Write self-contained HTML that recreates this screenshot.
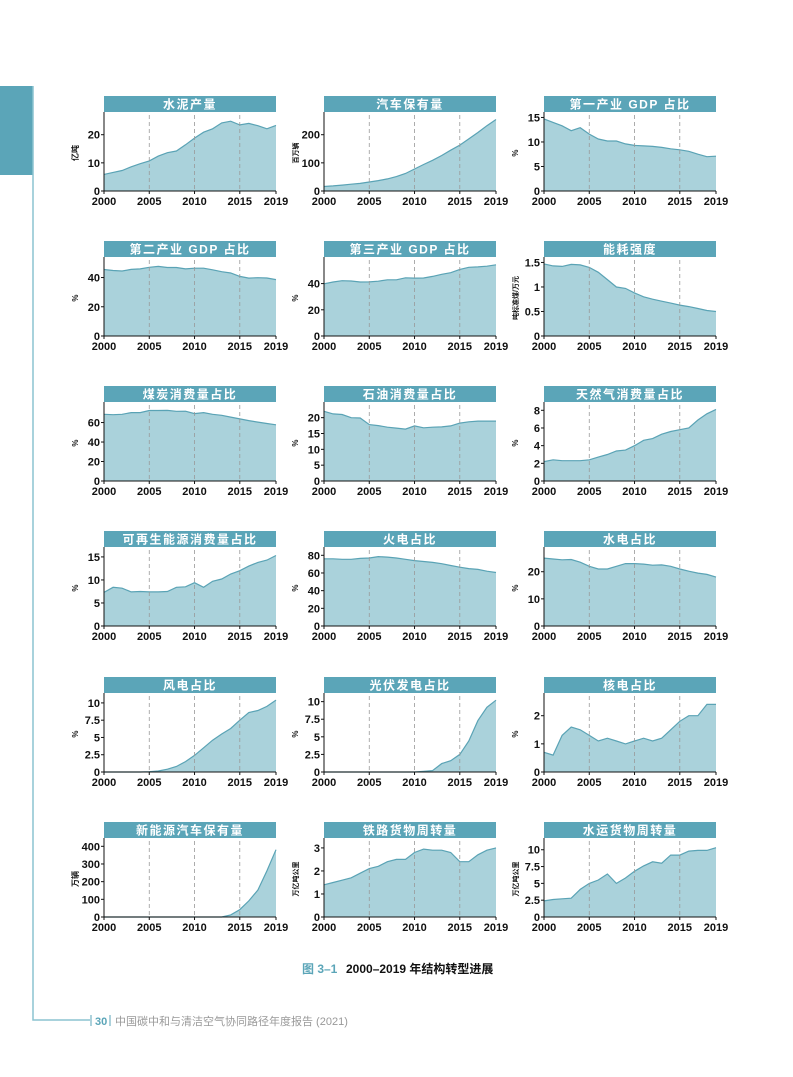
<!DOCTYPE html>
<html><head><meta charset="utf-8"><style>
body{margin:0;background:#fff;width:793px;height:1077px;overflow:hidden;position:relative;font-family:"Liberation Sans","Noto Sans CJK SC",sans-serif}
svg{position:absolute;left:0;top:0}
</style></head><body>
<svg id="s" width="793" height="1077">
<rect x="0" y="86" width="33" height="89" fill="#5ba5b8"/>
<polyline points="33,86 33,1020 90,1020" fill="none" stroke="#8cc3d0" stroke-width="1.5"/>
<text x="302" y="973" font-size="12" font-weight="bold" fill="#5ba5b8">图 3–1</text>
<text x="346" y="973" font-size="12" font-weight="bold" fill="#111">2000–2019 年结构转型进展</text>
<line x1="91" y1="1015" x2="91" y2="1026" stroke="#5ba5b8"/>
<text x="95" y="1025" font-size="11" font-weight="bold" fill="#5ba5b8">30</text>
<line x1="110" y1="1015" x2="110" y2="1026" stroke="#5ba5b8"/>
<text x="115" y="1025" font-size="11" fill="#999">中国碳中和与清洁空气协同路径年度报告 (2021)</text>
</svg>
<script>
const titles=["水泥产量","汽车保有量","第一产业 GDP 占比","第二产业 GDP 占比","第三产业 GDP 占比","能耗强度","煤炭消费量占比","石油消费量占比","天然气消费量占比","可再生能源消费量占比","火电占比","水电占比","风电占比","光伏发电占比","核电占比","新能源汽车保有量","铁路货物周转量","水运货物周转量"];
const units=["亿吨","百万辆","%","%","%","吨标准煤/万元","%","%","%","%","%","%","%","%","%","万辆","万亿吨公里","万亿吨公里"];
const yMaxes=[27,270,15.5,52,58,1.55,78,24,8.6,16.5,86,28,11,10.8,2.7,430,3.3,11.3];
const yTicks=[[0,10,20],[0,100,200],[0,5,10,15],[0,20,40],[0,20,40],[0,0.5,1,1.5],[0,20,40,60],[0,5,10,15,20],[0,2,4,6,8],[0,5,10,15],[0,20,40,60,80],[0,10,20],[0,2.5,5,7.5,10],[0,2.5,5,7.5,10],[0,1,2],[0,100,200,300,400],[0,1,2,3],[0,2.5,5,7.5,10]];
const years=[2000,2001,2002,2003,2004,2005,2006,2007,2008,2009,2010,2011,2012,2013,2014,2015,2016,2017,2018,2019];
const xTicks=[2000,2005,2010,2015,2019];
const cement=[5.9,6.6,7.3,8.6,9.7,10.7,12.4,13.6,14.2,16.4,18.8,20.9,22.1,24.2,24.8,23.5,24.0,23.2,22.1,23.3];
const cars=[16,18,21,24,27,32,37,43,51,62,78,94,109,126,145,163,185,208,232,254];
const gdp1=[14.7,14.0,13.3,12.3,12.9,11.6,10.6,10.2,10.2,9.6,9.3,9.2,9.1,8.9,8.6,8.4,8.1,7.5,7.0,7.1];
const gdp2=[45.5,44.8,44.5,45.6,45.9,47.0,47.6,46.9,46.9,45.9,46.4,46.4,45.3,44.0,43.1,40.8,39.6,39.9,39.7,38.6];
const gdp3=[39.8,41.2,42.2,42.0,41.2,41.3,41.8,42.9,42.9,44.4,44.2,44.3,45.5,47.1,48.3,50.8,52.4,52.7,53.3,54.3];
const intensity=[1.47,1.43,1.42,1.46,1.45,1.40,1.30,1.15,1.00,0.97,0.88,0.80,0.75,0.71,0.67,0.63,0.60,0.56,0.52,0.50];
const coal=[68.5,68,68.5,70.2,70.2,72.4,72.4,72.5,71.5,71.6,69.2,70.2,68.5,67.4,65.6,63.7,62.0,60.4,59.0,57.7];
const oil=[22,21.2,21,20,19.9,17.8,17.5,17,16.7,16.4,17.4,16.8,17,17.1,17.4,18.3,18.7,18.9,18.9,18.9];
const gas=[2.2,2.4,2.3,2.3,2.3,2.4,2.7,3.0,3.4,3.5,4.0,4.6,4.8,5.3,5.6,5.8,6.0,6.9,7.6,8.1];
const renew=[7.3,8.4,8.2,7.4,7.5,7.4,7.4,7.5,8.4,8.5,9.4,8.4,9.7,10.2,11.3,12.0,13.0,13.8,14.3,15.3];
const thermal=[76,76,75.5,75.5,76.5,77,78.5,78,77,75.5,74,73,72,70.5,68.5,66.5,65,64,62,60.5];
const hydro=[25,24.7,24.4,24.5,23.5,22,21,21,22,23,23,22.8,22.4,22.5,22,21,20.2,19.5,19,18];
const wind=[0,0,0,0,0,0.05,0.15,0.4,0.8,1.5,2.4,3.5,4.6,5.5,6.3,7.5,8.6,8.9,9.5,10.4];
const solar=[0,0,0,0,0,0,0,0,0,0,0,0.1,0.2,1.2,1.6,2.5,4.4,7.3,9.2,10.2];
const nuclear=[0.7,0.6,1.3,1.6,1.5,1.3,1.1,1.2,1.1,1.0,1.1,1.2,1.1,1.2,1.5,1.8,2.0,2.0,2.4,2.4];
const nev=[0,0,0,0,0,0,0,0,0,0,0,0,0,0,12,42,91,153,261,381];
const rail=[1.4,1.5,1.6,1.7,1.9,2.1,2.2,2.4,2.5,2.5,2.8,2.95,2.9,2.9,2.8,2.4,2.4,2.7,2.9,3.0];
const water=[2.4,2.6,2.7,2.8,4.1,5.0,5.5,6.4,5.0,5.8,6.8,7.6,8.2,8.0,9.2,9.2,9.8,9.9,9.9,10.3];
const series=[cement,cars,gdp1,gdp2,gdp3,intensity,coal,oil,gas,renew,thermal,hydro,wind,solar,nuclear,nev,rail,water];
const NS="http://www.w3.org/2000/svg",svg=document.getElementById('s');
const colX=[104,324,544],rowT=[96,241,386,531,677,822],W=172;
function mk(t,a,p){const e=document.createElementNS(NS,t);for(const k in a)e.setAttribute(k,a[k]);(p||svg).appendChild(e);return e;}
series.forEach((d,i)=>{
 const x0=colX[i%3],top=rowT[Math.floor(i/3)],bot=top+95,ytop=top+19;
 const g=mk('g',{});
 
 
 const xs=y=>x0+(y-2000)/19*W, ys=v=>bot-v/yMaxes[i]*(bot-ytop);
 const tb=mk('rect',{x:x0,y:top,width:W,height:16,fill:'#5ba5b8'},g);
 
 
 const tt=mk('text',{x:x0+W/2,y:top+12.5,'text-anchor':'middle','font-size':12,'font-weight':'bold',fill:'#fff','letter-spacing':'1.5'},g);tt.textContent=titles[i];
 
 
 let pts=d.map((v,k)=>xs(years[k]).toFixed(1)+','+ys(v).toFixed(1));
 const area=mk('polygon',{points:x0+','+bot+' '+pts.join(' ')+' '+(x0+W)+','+bot,fill:'#aad2db'},g);
 
 
 const ln=mk('polyline',{points:pts.join(' '),fill:'none',stroke:'#5aa3b5','stroke-width':1.2},g);
 
 
 [2005,2010,2015].forEach(y=>{const l=mk('line',{x1:xs(y),x2:xs(y),y1:ytop,y2:bot,stroke:'#999','stroke-dasharray':'4,3','stroke-width':0.8},g);
  
  });
 mk('line',{x1:x0,x2:x0,y1:ytop-3,y2:bot,stroke:'#111','stroke-width':1},g);
 mk('line',{x1:x0,x2:x0+W,y1:bot,y2:bot,stroke:'#111','stroke-width':1},g);
 yTicks[i].forEach(v=>{mk('line',{x1:x0-3,x2:x0,y1:ys(v),y2:ys(v),stroke:'#111'},g);
  const t=mk('text',{x:x0-4,y:ys(v)+4,'text-anchor':'end','font-size':11,'font-weight':'bold',fill:'#111'},g);t.textContent=v;
  
  });
 xTicks.forEach(y=>{mk('line',{x1:xs(y),x2:xs(y),y1:bot,y2:bot+3,stroke:'#111'},g);
  const t=mk('text',{x:xs(y),y:bot+14,'text-anchor':'middle','font-size':11,'font-weight':'bold',fill:'#111'},g);t.textContent=y;
  
  });
 const cy=(ytop+bot)/2,ux=x0-26;
 const u=mk('text',{x:ux,y:cy,'text-anchor':'middle','font-size':units[i].length>2?7:8,'font-weight':'bold',fill:'#111',transform:`rotate(-90 ${ux} ${cy})`},g);u.textContent=units[i];
 
 
});
</script>
</body></html>
